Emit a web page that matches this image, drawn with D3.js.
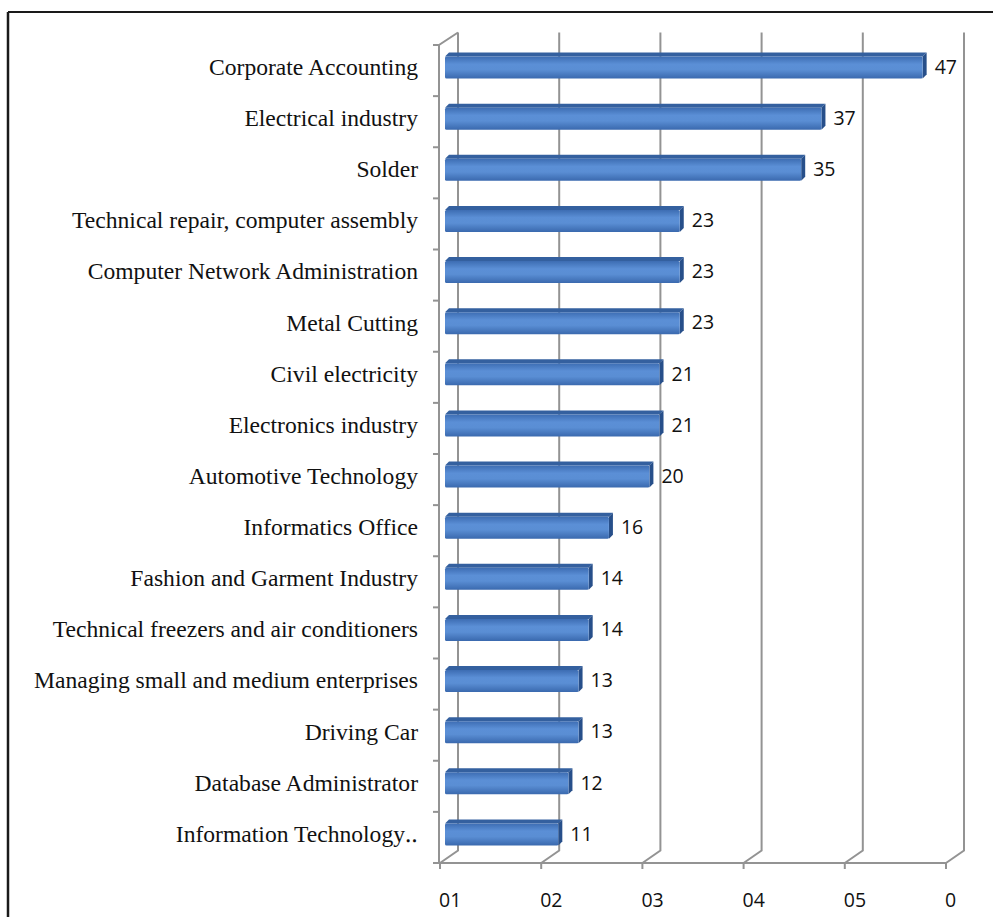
<!DOCTYPE html>
<html><head><meta charset="utf-8">
<script src="https://cdn.jsdelivr.net/npm/d3@7"></script>
<style>html,body{margin:0;padding:0;background:#fff;}svg{display:block;}</style>
</head><body>
<script>
const categories = ["Corporate Accounting","Electrical industry","Solder","Technical repair, computer assembly","Computer Network Administration","Metal Cutting","Civil electricity","Electronics industry","Automotive Technology","Informatics Office","Fashion and Garment Industry","Technical freezers and air conditioners","Managing small and medium enterprises","Driving Car","Database Administrator","Information Technology\u2025"];
const values = [47,37,35,23,23,23,21,21,20,16,14,14,13,13,12,11];
const tickValues = [0,10,20,30,40,50];
const tickLabels = ["01","02","03","04","05","0"];

const W=993,H=917;
const svg=d3.select("body").append("svg").attr("width",W).attr("height",H);

const defs=svg.append("defs");
const g1=defs.append("linearGradient").attr("id","barFront").attr("x1",0).attr("y1",0).attr("x2",0).attr("y2",1);
[[0,"#3d6db3"],[0.35,"#5b8fd6"],[0.6,"#5a8ed4"],[1,"#3a69ae"]].forEach(([o,c])=>g1.append("stop").attr("offset",o).attr("stop-color",c));

// frame
svg.append("line").attr("x1",8).attr("y1",12).attr("x2",W).attr("y2",12).attr("stroke","#1a1a1a").attr("stroke-width",2);
svg.append("line").attr("x1",8).attr("y1",12).attr("x2",8).attr("y2",H).attr("stroke","#1a1a1a").attr("stroke-width",2.5);

const x=d3.scaleLinear().domain([0,50]).range([440,946]);
const y=d3.scaleBand().domain(categories).range([45,863]);
const dX=18,dY=-12.5; // wall depth
const bX=7,bY=-3;     // bar plane offset
const gridCol="#939393";

// back gridlines with floor diagonals
tickValues.forEach(v=>{
  const xf=x(v), xb=x(v)+dX;
  svg.append("path").attr("d",`M${xb},${45+dY} L${xb},${863+dY} L${xf},863`)
    .attr("fill","none").attr("stroke",gridCol).attr("stroke-width",2);
  svg.append("line").attr("x1",xf).attr("x2",xf).attr("y1",863).attr("y2",869)
    .attr("stroke",gridCol).attr("stroke-width",2);
});
// floor front edge
svg.append("line").attr("x1",x(0)-1).attr("x2",x(50)).attr("y1",863).attr("y2",863).attr("stroke",gridCol).attr("stroke-width",2);
// left wall front edge + top diagonal
svg.append("path").attr("d",`M${x(0)+dX},${45+dY} L${x(0)-1},45 L${x(0)-1},863`)
  .attr("fill","none").attr("stroke",gridCol).attr("stroke-width",2);
// category ticks
const bounds=categories.map(c=>y(c)).concat([y.range()[1]]);
bounds.forEach(b=>{
  svg.append("line").attr("x1",x(0)-7).attr("x2",x(0)-1).attr("y1",b).attr("y2",b).attr("stroke",gridCol).attr("stroke-width",2);
});

// bars
const bh=22, d=4;
categories.forEach((c,i)=>{
  const cy=y(c)+y.bandwidth()/2+bY;
  const top=cy-bh/2, bot=cy+bh/2;
  const x0=x(0)+bX-2, x1=x(values[i])+bX;
  const g=svg.append("g");
  g.append("path").attr("d",`M${x0},${top} L${x1},${top} L${x1+d},${top-d} L${x0+d},${top-d} Z`).attr("fill","#34609f");
  g.append("path").attr("d",`M${x1},${top} L${x1+d},${top-d} L${x1+d},${bot-d} L${x1},${bot} Z`).attr("fill","#274f8a");
  g.append("rect").attr("x",x0).attr("y",top).attr("width",x1-x0).attr("height",bh).attr("rx",1.5).attr("fill","url(#barFront)");
  svg.append("text").attr("x",x1+12).attr("y",cy+1).attr("dominant-baseline","middle")
    .attr("font-family","'Open Sans',sans-serif").attr("font-size",19.5).attr("fill","#111").text(values[i]);
  svg.append("text").attr("x",418).attr("y",y(c)+y.bandwidth()/2-1).attr("dominant-baseline","middle").attr("text-anchor","end")
    .attr("font-family","'Liberation Serif','Times New Roman',serif").attr("font-size",23.6).attr("fill","#111").text(c);
});

// bottom tick labels
tickValues.forEach((v,i)=>{
  svg.append("text").attr("x",x(v)-1).attr("y",907).attr("font-family","'Open Sans',sans-serif").attr("font-size",19.5).attr("fill","#111").text(tickLabels[i]);
});
</script>
</body></html>
